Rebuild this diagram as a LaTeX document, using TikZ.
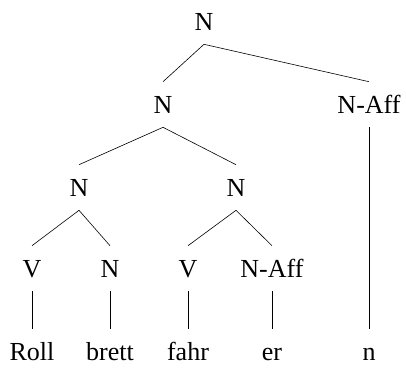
\documentclass[tikz,border=0pt]{standalone}
\usepackage{fontspec}
\setmainfont{Liberation Serif}
\usetikzlibrary{positioning}

\tikzset{cat/.style={inner xsep=1pt, inner ysep=14pt, text height=17pt, text depth=0pt,
    font=\fontsize{26}{30}\selectfont}}

\begin{document}
\begin{tikzpicture}[node distance = 83pt, on grid, every node/.style={cat}, line width=0.6pt]
  \useasboundingbox (0,0) rectangle (406pt,-367pt);
  \node (top) at (204pt,-21.5pt) {N};
  \node (n1) [below left=83pt and 41pt of top] {N};
  \node (aff1) [below right=83pt and 165pt of top] {N-Aff};
  \node (n2) [below left=83pt and 84pt of n1] {N};
  \node (n3) [below right=83pt and 73pt of n1] {N};
  \node (v1) [below left=81pt and 47pt of n2] {V};
  \node (n4) [below right=81pt and 31pt of n2] {N};
  \node (v2) [below left=81pt and 48pt of n3] {V};
  \node (aff2) [below right=81pt and 36pt of n3] {N-Aff};
  \node (roll) [below=of v1] {Roll};
  \node (brett) [below=of n4] {brett};
  \node (fahr) [below=of v2] {fahr};
  \node (er) [below=of aff2] {er};
  \node (n) [below=247pt of aff1] {n};
  \path
    (top.south) edge (n1.north)
                edge (aff1.north)
    (n1.south) edge (n2.north)
               edge (n3.north)
    (n2.south) edge (v1.north)
               edge (n4.north)
    (n3.south) edge (v2.north)
               edge (aff2.north)
    (v1.south) edge (roll.north)
    (n4.south) edge (brett.north)
    (v2.south) edge (fahr.north)
    (aff2.south) edge (er.north)
    (aff1.south) edge (n.north);
\end{tikzpicture}
\end{document}
